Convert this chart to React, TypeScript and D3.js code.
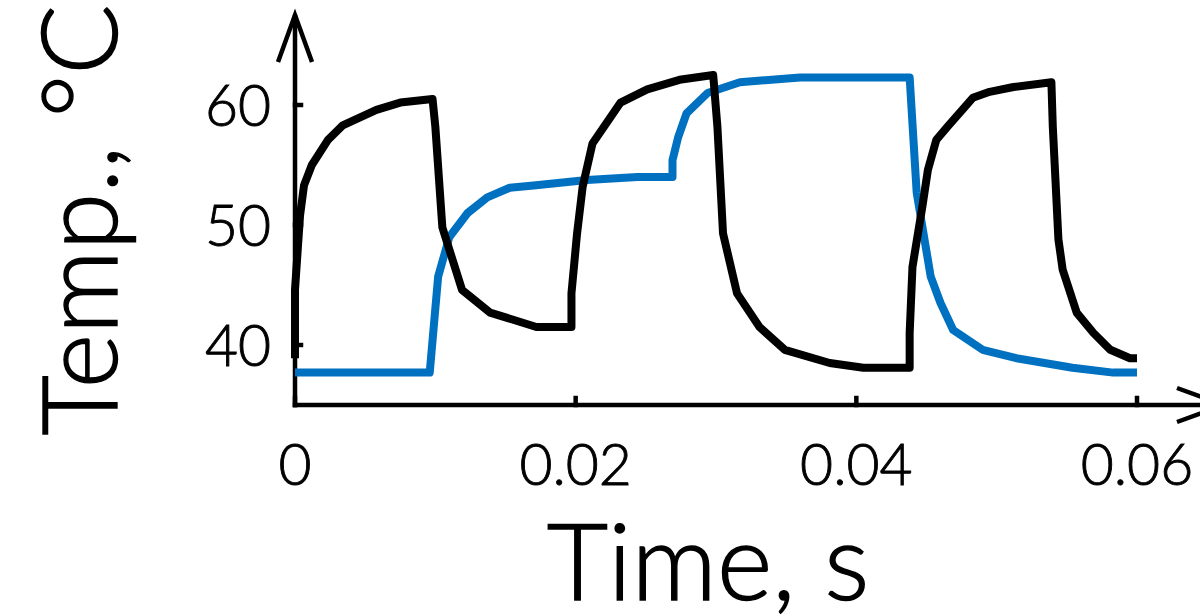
import React from 'react'
import * as d3 from 'd3'

// time (s) and temperature (°C)
const blackTime = [0, 0, 0.00036, 0.00064, 0.0012, 0.00235, 0.0034, 0.0058, 0.0075, 0.0098, 0.0100, 0.0105, 0.0119, 0.0139, 0.0172, 0.0197, 0.0197, 0.0201, 0.0205, 0.0212, 0.0232, 0.0251, 0.0274, 0.0298, 0.0301, 0.0305, 0.0315, 0.0331, 0.0349, 0.0381, 0.0405, 0.0438, 0.0438, 0.0440, 0.0447, 0.0451, 0.0457, 0.0465, 0.0483, 0.0495, 0.0512, 0.0539, 0.0540, 0.0544, 0.0547, 0.0557, 0.0569, 0.0581, 0.0595, 0.0600]
const blackTemp = [38.9, 44.6, 50.8, 53.3, 55.0, 57.1, 58.3, 59.6, 60.2, 60.5, 58.2, 49.8, 44.6, 42.7, 41.5, 41.5, 44.3, 49.3, 53.2, 56.8, 60.2, 61.3, 62.1, 62.5, 58.2, 49.3, 44.3, 41.5, 39.6, 38.5, 38.1, 38.1, 41.0, 46.5, 51.5, 54.6, 57.1, 58.2, 60.6, 61.1, 61.5, 61.9, 58.2, 48.8, 46.3, 42.7, 41.0, 39.6, 38.9, 38.9]

const blueTime = [0, 0.0096, 0.0102, 0.0110, 0.0123, 0.0137, 0.0153, 0.0170, 0.0208, 0.0244, 0.0269, 0.0269, 0.0273, 0.0279, 0.0294, 0.0317, 0.0360, 0.0438, 0.0443, 0.0453, 0.0460, 0.0469, 0.0490, 0.0514, 0.0554, 0.0583, 0.0600]
const blueTemp = [37.7, 37.7, 45.7, 49.0, 51.0, 52.3, 53.1, 53.3, 53.75, 54.0, 54.0, 55.4, 57.3, 59.3, 61.0, 61.9, 62.3, 62.3, 52.7, 45.7, 43.5, 41.25, 39.6, 38.9, 38.1, 37.7, 37.7]

const xTicks = [0, 0.02, 0.04, 0.06]
const xTickLabels = ['0', '0.02', '0.04', '0.06']
const yTicks = [40, 50, 60]

const FONT = 'Lato, "Open Sans", sans-serif'

export default function App() {
  const width = 1200
  const height = 616

  const x = d3.scaleLinear().domain([0, 0.06]).range([295, 1137])
  const y = d3.scaleLinear().domain([40, 60]).range([345, 105])

  const axisX = 295
  const axisY = 405

  const line = d3
    .line<[number, number]>()
    .x(d => x(d[0]))
    .y(d => y(d[1]))

  const blackPts = blackTime.map((t, i) => [t, blackTemp[i]] as [number, number])
  const bluePts = blueTime.map((t, i) => [t, blueTemp[i]] as [number, number])

  // light weight thickened a little with a hairline stroke
  const textStyle = { fontFamily: FONT, fontWeight: 300, fill: '#000', stroke: '#000', strokeWidth: 0.9 }

  return (
    <svg
      width={width}
      height={height}
      style={{ position: 'absolute', left: 0, top: 0, background: '#fff' }}
    >
      {/* axes */}
      <g stroke="#000" strokeWidth={4.5} fill="none" strokeLinecap="square">
        <line x1={axisX} y1={axisY} x2={axisX} y2={17} />
        <line x1={axisX} y1={axisY} x2={1224} y2={axisY} />
        <polyline points={`${axisX - 17},62 ${axisX},15 ${axisX + 17},62`} strokeLinecap="butt" />
        <polyline points={`1177,388 1224,${axisY} 1177,422`} strokeLinecap="butt" />
        {yTicks.map(t => (
          <line key={t} x1={axisX} x2={axisX + 6} y1={y(t)} y2={y(t)} />
        ))}
        {xTicks.map(t => (
          <line key={t} x1={x(t)} x2={x(t)} y1={axisY} y2={axisY - 7} />
        ))}
      </g>

      {/* tick labels */}
      <g style={textStyle} fontSize={57}>
        {yTicks.map(t => (
          <text key={t} x={271} y={y(t)} dy="0.36em" textAnchor="end">
            {t}
          </text>
        ))}
        {xTicks.map((t, i) => (
          <text key={t} x={x(t)} y={485} textAnchor="middle">
            {xTickLabels[i]}
          </text>
        ))}
      </g>

      {/* series */}
      <path d={line(bluePts) ?? ''} fill="none" stroke="#0070C0" strokeWidth={8} strokeLinejoin="round" />
      <path d={line(blackPts) ?? ''} fill="none" stroke="#000" strokeWidth={8} strokeLinejoin="round" />

      {/* axis titles */}
      <text x={708} y={600} textAnchor="middle" fontSize={106} style={{ ...textStyle, strokeWidth: 1.4 }}>
        Time, s
      </text>
      <text
        transform="translate(117,220) rotate(-90)"
        textAnchor="middle"
        fontSize={104}
        style={{ ...textStyle, strokeWidth: 1.4 }}
      >
        Temp., °C
      </text>
    </svg>
  )
}
